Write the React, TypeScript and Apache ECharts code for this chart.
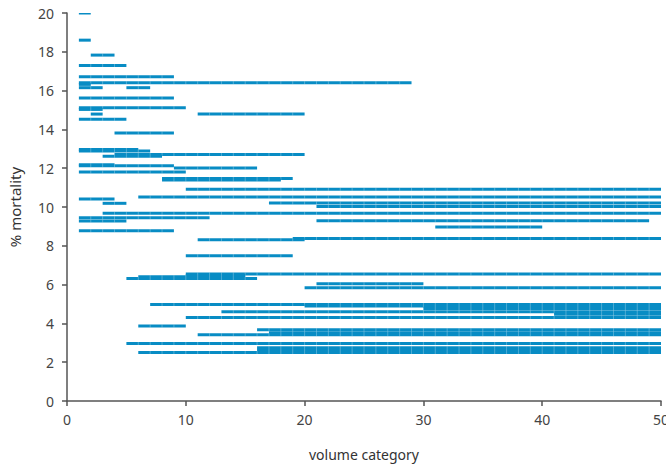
import React, { useEffect, useRef } from "react";
import * as echarts from "echarts";

// Each segment: start volume category, end volume category, % mortality
const segStart = [1, 1, 2, 1, 1, 1, 1, 1, 5, 1, 1, 1, 2, 11, 1, 4, 1, 1, 4, 3, 1, 1, 9, 1, 8, 8, 10, 6, 1, 3, 17, 21, 3, 1, 1, 21, 31, 1, 19, 11, 10, 10, 10, 6, 5, 21, 20, 7, 20, 30, 13, 41, 10, 6, 16, 17, 11, 5, 16, 16, 6];
const segEnd = [2, 2, 4, 5, 9, 29, 2, 3, 7, 9, 10, 3, 3, 20, 5, 9, 6, 7, 20, 8, 4, 9, 16, 10, 19, 18, 50, 50, 4, 5, 50, 50, 50, 12, 5, 49, 40, 9, 50, 20, 19, 50, 15, 15, 16, 30, 50, 50, 50, 50, 50, 50, 50, 10, 50, 50, 50, 50, 50, 50, 50];
const segMortality = [20.0, 18.6, 17.83, 17.3, 16.72, 16.41, 16.32, 16.15, 16.15, 15.62, 15.12, 15.03, 14.79, 14.79, 14.52, 13.81, 12.97, 12.89, 12.71, 12.62, 12.18, 12.12, 12.01, 11.8, 11.47, 11.39, 10.91, 10.52, 10.41, 10.19, 10.2, 10.02, 9.68, 9.45, 9.28, 9.29, 8.97, 8.78, 8.38, 8.31, 7.49, 6.55, 6.47, 6.41, 6.32, 6.04, 5.84, 4.97, 4.9, 4.77, 4.6, 4.47, 4.31, 3.87, 3.67, 3.52, 3.42, 2.97, 2.75, 2.62, 2.5];

const xTicks = [0, 10, 20, 30, 40, 50];
const yTicks = [0, 2, 4, 6, 8, 10, 12, 14, 16, 18, 20];

const LINE_COLOR = "#088cc4";
const SEAM_COLOR = "rgba(255,255,255,0.28)";

export default function App() {
  const ref = useRef<HTMLDivElement>(null);

  useEffect(() => {
    if (!ref.current) return;
    const chart = echarts.init(ref.current, null, { renderer: "svg" });
    const data = segStart.map((s, i) => [s, segEnd[i], segMortality[i]]);
    const font = "'Noto Sans', 'Open Sans', sans-serif";

    chart.setOption({
      animation: false,
      backgroundColor: "#ffffff",
      grid: { left: 67, right: 5, top: 13, bottom: 66, containLabel: false, outerBoundsMode: "none" },
      xAxis: {
        type: "value",
        min: xTicks[0],
        max: xTicks[xTicks.length - 1],
        interval: 10,
        name: "volume category",
        nameLocation: "middle",
        nameGap: 46,
        nameTextStyle: { fontFamily: font, fontSize: 14, color: "#333" },
        axisLine: { show: true, lineStyle: { color: "#555", width: 1.5 } },
        axisTick: { show: true, length: 5, lineStyle: { color: "#555", width: 1.5 } },
        axisLabel: { fontFamily: font, fontSize: 14, color: "#444", margin: 11 },
        splitLine: { show: false },
      },
      yAxis: {
        type: "value",
        min: yTicks[0],
        max: yTicks[yTicks.length - 1],
        interval: 2,
        name: "% mortality",
        nameLocation: "middle",
        nameGap: 45,
        nameRotate: 90,
        nameTextStyle: { fontFamily: font, fontSize: 15, color: "#333" },
        axisLine: { show: true, lineStyle: { color: "#555", width: 1.5 } },
        axisTick: { show: true, length: 5, lineStyle: { color: "#555", width: 1.5 } },
        axisLabel: { fontFamily: font, fontSize: 14, color: "#444", margin: 13 },
        splitLine: { show: false },
      },
      series: [
        {
          type: "custom",
          clip: true,
          data,
          encode: { x: [0, 1], y: 2 },
          renderItem: (params: any, api: any) => {
            const s = api.value(0);
            const e = api.value(1);
            const y = api.value(2);
            const a = api.coord([s, y]);
            const b = api.coord([e, y]);
            const children: any[] = [
              {
                type: "rect",
                shape: { x: a[0], y: a[1] - 1.5, width: b[0] - a[0], height: 3 },
                style: { fill: LINE_COLOR },
              },
            ];
            for (let k = s + 1; k < e; k++) {
              const p = api.coord([k, y]);
              children.push({
                type: "rect",
                shape: { x: p[0] - 0.5, y: p[1] - 1.5, width: 1, height: 3 },
                style: { fill: SEAM_COLOR },
              });
            }
            return { type: "group", children };
          },
        },
      ],
    });

    return () => chart.dispose();
  }, []);

  return (
    <div
      ref={ref}
      style={{ position: "fixed", left: 0, top: 0, width: 666, height: 467, background: "#fff" }}
    />
  );
}
